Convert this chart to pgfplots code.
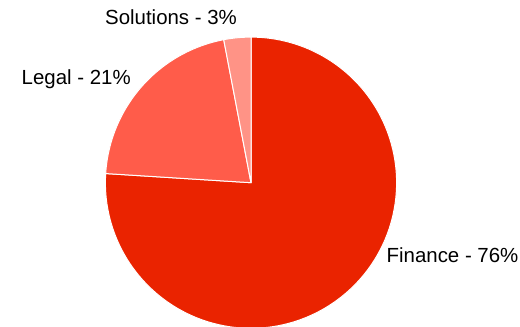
\documentclass[border=0pt]{standalone}
\usepackage{pgfplots}
\pgfplotsset{compat=1.18}
\usepackage{fontspec}
\setmainfont{Liberation Sans}
\definecolor{cFin}{RGB}{234,35,0}
\definecolor{cLeg}{RGB}{255,92,74}
\definecolor{cSol}{RGB}{255,147,134}
\begin{document}
\begin{tikzpicture}
% data (percent)
\def\vFin{76}
\def\vLeg{21}
\def\vSol{3}
\pgfmathsetmacro\aA{0}
\pgfmathsetmacro\aB{3.6*\vFin}
\pgfmathsetmacro\aC{3.6*(\vFin+\vLeg)}
\pgfmathsetmacro\aD{3.6*(\vFin+\vLeg+\vSol)}
\def\cx{251}
\def\cy{143.3}
\def\rr{145.6}
\begin{axis}[
  width=520bp, height=326bp, scale only axis,
  xmin=0, xmax=520, ymin=0, ymax=326,
  hide axis, clip=true,
]
\addplot[fill=cFin, draw=white, line width=1bp, domain=\aA:\aB, samples=140, variable=\t]
  ({\cx+\rr*sin(\t)}, {\cy+\rr*cos(\t)}) -- (axis cs:\cx,\cy) -- cycle;
\addplot[fill=cLeg, draw=white, line width=1bp, domain=\aB:\aC, samples=50, variable=\t]
  ({\cx+\rr*sin(\t)}, {\cy+\rr*cos(\t)}) -- (axis cs:\cx,\cy) -- cycle;
\addplot[fill=cSol, draw=white, line width=1bp, domain=\aC:\aD, samples=12, variable=\t]
  ({\cx+\rr*sin(\t)}, {\cy+\rr*cos(\t)}) -- (axis cs:\cx,\cy) -- cycle;
\node[anchor=base west, inner sep=0pt, font=\fontsize{20.5}{24}\selectfont] at (axis cs:105,301) {Solutions - \vSol\%};
\node[anchor=base west, inner sep=0pt, font=\fontsize{20.5}{24}\selectfont] at (axis cs:21.5,241) {Legal - \vLeg\%};
\node[anchor=base west, inner sep=0pt, font=\fontsize{20.5}{24}\selectfont] at (axis cs:386.5,63.3) {Finance - \vFin\%};
\end{axis}
\pgfresetboundingbox
\path[use as bounding box] (current axis.south west) rectangle (current axis.north east);
\end{tikzpicture}
\end{document}
